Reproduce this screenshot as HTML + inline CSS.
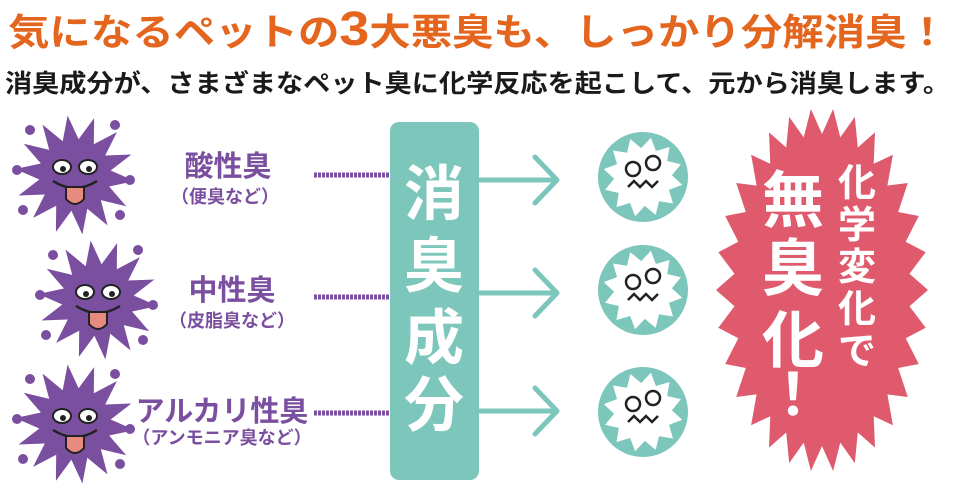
<!DOCTYPE html>
<html><head><meta charset="utf-8">
<style>
html,body{margin:0;padding:0;background:#fff;}
svg{display:block;}
text{font-family:"Liberation Sans","Noto Sans CJK JP",sans-serif;font-weight:bold;}
</style></head>
<body>
<svg id="s" width="957" height="493" viewBox="0 0 957 493" xmlns="http://www.w3.org/2000/svg">
<rect width="957" height="493" fill="#fff"/>
<text x="8" y="45" font-size="37" fill="#e4661e" textLength="940" lengthAdjust="spacingAndGlyphs">気になるペットの<tspan font-size="48">3</tspan>大悪臭も、しっかり分解消臭！</text>
<text x="5" y="92" font-size="25" fill="#1a1a1a" textLength="945" lengthAdjust="spacingAndGlyphs">消臭成分が、さまざまなペット臭に化学反応を起こして、元から消臭します。</text>

<g id="viruses"></g>

<g fill="#7b4fa0" text-anchor="middle">
<text x="228" y="176" font-size="29">酸性臭</text>
<text x="225" y="203" font-size="18">（便臭など）</text>
<text x="232" y="300" font-size="29">中性臭</text>
<text x="232" y="327" font-size="18">（皮脂臭など）</text>
<text x="222" y="421" font-size="29">アルカリ性臭</text>
<text x="222" y="444" font-size="18">（アンモニア臭など）</text>
</g>
<g stroke="#7b4fa0" stroke-width="5" stroke-dasharray="3 1">
<line x1="314" y1="175" x2="392" y2="175"/>
<line x1="314" y1="297" x2="392" y2="297"/>
<line x1="314" y1="413" x2="392" y2="413"/>
</g>

<rect x="390" y="122" width="89" height="358" rx="9" fill="#7cc6bc"/>
<g fill="#fff" text-anchor="middle" font-size="60">
<text x="434" y="215">消</text>
<text x="434" y="287">臭</text>
<text x="434" y="359">成</text>
<text x="434" y="426">分</text>
</g>

<g stroke="#7cc6bc" stroke-width="5" fill="none" stroke-linecap="round" stroke-linejoin="round">
<path d="M480 180 H557 M535 157 L557 180 L535 203"/>
<path d="M480 293 H557 M535 270 L557 293 L535 316"/>
<path d="M480 411 H557 M535 388 L557 411 L535 434"/>
</g>

<g id="circles"></g>
<g id="burst"></g>

<g fill="#fff" text-anchor="middle">
<text x="793" y="222" font-size="62">無</text>
<text x="793" y="290" font-size="62">臭</text>
<text x="793" y="362" font-size="62">化</text>
<text x="793" y="415" font-size="58">！</text>
<text x="857" y="196" font-size="38">化</text>
<text x="857" y="238" font-size="38">学</text>
<text x="857" y="280" font-size="38">変</text>
<text x="857" y="322" font-size="38">化</text>
<text x="857" y="364" font-size="38">で</text>
</g>
</svg>
<script>
function star(cx,cy,rx1,ry1,rx2,ry2,n,rot){var p=[];for(var i=0;i<2*n;i++){var a=Math.PI*i/n+(rot||0);var o=i%2==0;p.push((cx+Math.cos(a)*(o?rx1:rx2)).toFixed(1)+","+(cy+Math.sin(a)*(o?ry1:ry2)).toFixed(1));}return p.join(" ");}
var NS="http://www.w3.org/2000/svg";
function el(t,a,par){var e=document.createElementNS(NS,t);for(var k in a)e.setAttribute(k,a[k]);document.getElementById(par).appendChild(e);return e;}
[[75,175],[98,300],[75,424]].forEach(function(c,i){
 var x=c[0],y=c[1];
 el("polygon",{points:star(x,y,60,60,36,36,14,0.1),fill:"#7b4fa0"},"viruses");
 [[-45,-45],[40,-50],[-52,35],[45,40],[-58,-5],[55,5]].forEach(function(d){el("circle",{cx:x+d[0],cy:y+d[1],r:5,fill:"#7b4fa0"},"viruses");});
 el("ellipse",{cx:x-13,cy:y-8,rx:9,ry:7,fill:"#fff",stroke:"#222","stroke-width":2},"viruses");
 el("ellipse",{cx:x+13,cy:y-8,rx:9,ry:7,fill:"#fff",stroke:"#222","stroke-width":2},"viruses");
 el("circle",{cx:x-12,cy:y-6,r:3,fill:"#222"},"viruses");
 el("circle",{cx:x+14,cy:y-6,r:3,fill:"#222"},"viruses");
 el("path",{d:"M"+(x-22)+" "+(y+6)+" Q"+x+" "+(y+20)+" "+(x+22)+" "+(y+6),stroke:"#222","stroke-width":2.5,fill:"none"},"viruses");
 el("path",{d:"M"+(x-9)+" "+(y+12)+" V"+(y+24)+" Q"+x+" "+(y+34)+" "+(x+9)+" "+(y+24)+" V"+(y+12)+" Z",fill:"#e98a80",stroke:"#222","stroke-width":2},"viruses");
});
[[643,177],[643,290],[643,412]].forEach(function(c){
 el("circle",{cx:c[0],cy:c[1],r:45,fill:"#7cc6bc"},"circles");
 el("polygon",{points:star(c[0],c[1],40,40,29,29,12,0.2),fill:"#fff"},"circles");
 el("path",{d:"M"+(c[0]-15)+" "+(c[1]+10)+" l6 -6 l6 6 l6 -6 l6 6 l6 -6",stroke:"#222","stroke-width":2.5,fill:"none"},"circles");
 el("circle",{cx:c[0]-10,cy:c[1]-8,r:7,fill:"none",stroke:"#222","stroke-width":2.5},"circles");
 el("circle",{cx:c[0]+10,cy:c[1]-14,r:7,fill:"none",stroke:"#222","stroke-width":2.5},"circles");
});
el("polygon",{points:star(822,290,106,182,88,156,30,0),fill:"#e05a6e"},"burst");
</script>
</body></html>
